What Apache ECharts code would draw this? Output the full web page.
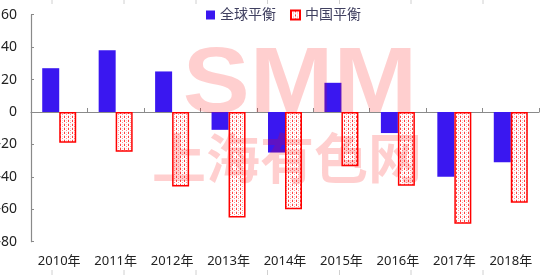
<!DOCTYPE html>
<html><head><meta charset="utf-8">
<script src="https://cdn.jsdelivr.net/npm/echarts@6/dist/echarts.min.js"></script>
<style>html,body{margin:0;padding:0;background:#fff}#c{width:544px;height:275px}</style>
</head><body><div id="c"></div>
<script>
var categories = ['2010年','2011年','2012年','2013年','2014年','2015年','2016年','2017年','2018年'];
var globalBalance = [27, 38, 25, -11, -25, 18, -13, -40, -31];
var chinaBalance = [-19, -24.5, -46, -65, -60, -33.5, -45.5, -69, -56];
var yTicks = {min: -80, max: 60, interval: 20};

function makePattern(){
  var c = document.createElement('canvas'); c.width = 4; c.height = 4;
  var g = c.getContext('2d');
  g.fillStyle = '#ffffff'; g.fillRect(0,0,4,4);
  g.fillStyle = '#ff4040';
  g.fillRect(0,0,1,2);
  g.fillStyle = '#ff9090';
  g.fillRect(2,2,1,1);
  g.fillStyle = '#ffd0d0';
  g.fillRect(0,3,1,1); g.fillRect(2,0,1,1);
  return {image: c, repeat: 'repeat'};
}
var pat = makePattern();
var chart = echarts.init(document.getElementById('c'), null, {renderer:'canvas'});
var font = '"Noto Sans", "Noto Sans CJK SC", sans-serif';
var artifactX = [52, 124, 196, 267.5, 339.5, 411, 483];
var graphics = [];
artifactX.forEach(function(x){
  graphics.push({type:'line', shape:{x1:x,y1:0,x2:x,y2:4}, style:{stroke:'#d0d0d0', lineWidth:1}, z:1});
  graphics.push({type:'line', shape:{x1:x,y1:270,x2:x,y2:275}, style:{stroke:'#d0d0d0', lineWidth:1}, z:1});
});
graphics.push({type:'text', x:300, y:86, scaleX:1.08, z:100, silent:true,
  style:{text:'SMM', x:0, y:0, align:'center', verticalAlign:'middle', font:'bold 93px "Liberation Sans", Arial, sans-serif', fill:'rgba(255,0,0,0.19)'}});
graphics.push({type:'text', x:287, y:158, z:100, silent:true,
  style:{text:'上海有色网', x:0, y:0, align:'center', verticalAlign:'middle', font:'bold 54px "Noto Sans CJK SC", sans-serif', fill:'rgba(255,0,0,0.19)'}});

chart.setOption({
  animation:false,
  backgroundColor:'#fff',
  grid:{left:31, right:5, top:14.7, bottom:33.3, containLabel:false, outerBoundsMode:'none'},
  legend:{
    top:3, left:201, itemWidth:9, itemHeight:9, itemGap:14,
    textStyle:{fontSize:14, color:'#404060', fontFamily:font},
    data:[
      {name:'全球平衡', icon:'rect', itemStyle:{color:'#3a17f0'}},
      {name:'中国平衡', icon:'rect', itemStyle:{color:pat, borderColor:'#ff0000', borderWidth:2}}
    ]
  },
  xAxis:[
    {type:'category', data:categories, position:'bottom',
     axisLine:{show:false, onZero:false}, axisTick:{show:false},
     axisLabel:{fontSize:13, color:'#222', margin:13, fontFamily:font}},
    {type:'category', data:categories, position:'bottom',
     axisLine:{show:true, onZero:true, onZeroAxisIndex:0, lineStyle:{color:'#8a8a8a', width:1.2}},
     axisTick:{show:true, inside:true, length:4, lineStyle:{color:'#8a8a8a'}},
     axisLabel:{show:false}}
  ],
  yAxis:{type:'value', min:yTicks.min, max:yTicks.max, interval:yTicks.interval,
    axisLine:{show:true, lineStyle:{color:'#8a8a8a', width:1.2}},
    axisTick:{show:true, inside:true, length:3, lineStyle:{color:'#8a8a8a'}},
    splitLine:{show:false},
    axisLabel:{fontSize:14, color:'#222', margin:14, fontFamily:font}},
  series:[
    {name:'全球平衡', type:'bar', data:globalBalance, barWidth:17, barGap:'0%',
     itemStyle:{color:'#3a17f0'}},
    {name:'中国平衡', type:'bar', data:chinaBalance, barWidth:17, barGap:'0%',
     itemStyle:{color:pat, borderColor:'#ff0000', borderWidth:1.5}}
  ],
  graphic:graphics
});
</script></body></html>
